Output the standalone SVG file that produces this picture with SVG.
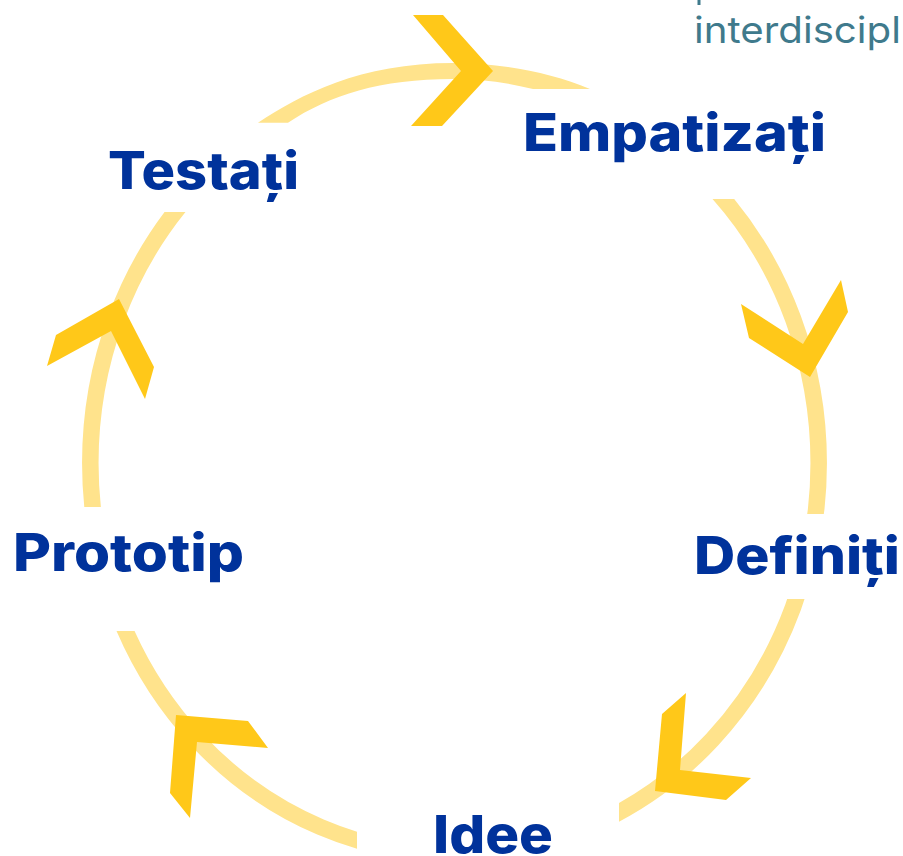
<svg xmlns="http://www.w3.org/2000/svg" width="903" height="856" viewBox="0 0 903 856">
<style>
.arc{fill:none;stroke:#ffe38c;stroke-width:16.5}
.arc-top{fill:#ffe38c}
.head{fill:#ffc819}
.label{font-family:"Inter","Liberation Sans",sans-serif;font-weight:800;font-size:52px;fill:#00329b}
.frag{font-family:"Inter","Liberation Sans",sans-serif;font-weight:400;font-size:37px;fill:#3f7a8c}
</style>
<defs>
<clipPath id="bands">
<rect x="0" y="212" width="454.5" height="295"/>
<rect x="454.5" y="199" width="449" height="315"/>
<rect x="0" y="631" width="357" height="225"/>
<rect x="619" y="599" width="284" height="257"/>
</clipPath>
</defs>
<rect width="903" height="856" fill="#fff"/>
<g id="connectors">
<ellipse class="arc" cx="454.5" cy="463" rx="364.2" ry="391.5" clip-path="url(#bands)"/>
<path class="arc-top" d="M258,122.7C300,95 360,63 453,63C500,63 550,72 590,89L533,89C505,82 480,79 453,79C380,79 330,95 288,122.7Z"/>
<polygon class="head" points="413,15 443,15 493,71 442,126 411,126 461,71"/>
<polygon class="head" points="741,304 749,338 810,377 848,312 841,280 803,344"/>
<polygon class="head" points="686,693 662,714 655,791 726,800 751,778 680,770"/>
<polygon class="head" points="176,715 248,721 268,748 197,742 190,818 170,793"/>
<polygon class="head" points="119,299 154,367 145,399 111,331 47,366 56,335"/>
</g>
<g id="node-empatizati"><text class="label" x="523" y="151" textLength="303" lengthAdjust="spacingAndGlyphs">Empatizați</text></g>
<g id="node-definiti"><text class="label" x="694" y="574" textLength="206" lengthAdjust="spacingAndGlyphs">Definiți</text></g>
<g id="node-idee"><text class="label" x="433" y="853" textLength="120" lengthAdjust="spacingAndGlyphs">Idee</text></g>
<g id="node-prototip"><text class="label" x="13" y="571" textLength="231" lengthAdjust="spacingAndGlyphs">Prototip</text></g>
<g id="node-testati"><text class="label" x="108" y="189" textLength="191" lengthAdjust="spacingAndGlyphs">Testați</text></g>
<g id="fragment">
<rect x="697.5" y="0" width="3" height="5" fill="#3f7a8c"/>
<text class="frag" x="694" y="43" textLength="207" lengthAdjust="spacingAndGlyphs">interdiscipl</text>
</g>
</svg>
